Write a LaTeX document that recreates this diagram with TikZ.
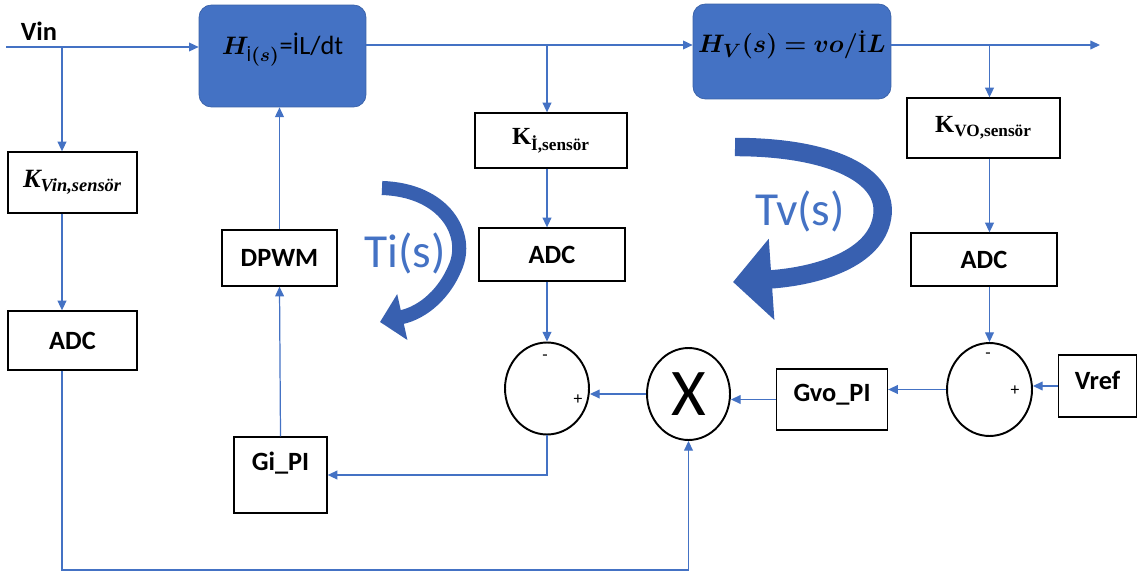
\documentclass[tikz,border=0pt]{standalone}
\usepackage{fontspec}
\usepackage{amsmath,bm}
\setmainfont{Carlito}
\newfontfamily\kfont{Liberation Serif}
\usetikzlibrary{arrows.meta}
\usetikzlibrary{shapes.geometric}
\definecolor{sigblue}{RGB}{68,114,196}
\definecolor{loopblue}{RGB}{56,96,176}
\tikzset{
    sig/.style={draw=sigblue, line width=0.7pt, -{Triangle[length=5.5pt,width=5pt]}},
    blk/.style={draw=black, line width=0.75pt, inner sep=0pt, font=\fontsize{15}{18}\selectfont\bfseries},
    plant/.style={fill=sigblue, draw=sigblue!85!black, rounded corners=7pt, inner sep=0pt, font=\fontsize{15}{18}\selectfont},
    sumnode/.style={ellipse, draw=black, line width=1.1pt, inner sep=0pt},
    sgn/.style={inner sep=0pt, font=\fontsize{10}{12}\selectfont},
    loopband/.style={draw=loopblue},
    looplabel/.style={text=sigblue, inner sep=0pt, font=\fontsize{27}{30}\selectfont}
}

\begin{document}
\begin{tikzpicture}[x=0.02cm, y=-0.02cm]
    \useasboundingbox (0,0) rectangle (1139,574);
    % plant blocks
    \node[plant, minimum width=3.34cm, text height=1.0cm, text depth=1.04cm] (Hi) at (282.5,56) {$\bm{H}_{\text{İ}\bm{(s)}}$=İL/dt};
    \node[plant, minimum width=3.96cm, text height=0.98cm, text depth=0.92cm] (Hv) at (792,51.5) {$\bm{H_V(s)=vo/}\text{\kfont İ}\bm{L}$};
    % input side
    \node[inner sep=0pt, font=\fontsize{15}{18}\selectfont\bfseries] (vinlabel) at (39,31) {Vin};
    \node[blk, minimum width=2.58cm, minimum height=1.22cm, font=\fontsize{15}{17}\selectfont\kfont\bfseries\itshape] (Kvin) at (72.5,182.5) {K\textsubscript{Vin,sensör}};
    \node[blk, minimum width=2.58cm, minimum height=1.18cm] (adcA) at (72.5,340.5) {ADC};
    % current loop
    \node[blk, minimum width=2.30cm, minimum height=1.12cm] (dpwm) at (279.5,258) {DPWM};
    \node[blk, minimum width=1.86cm, text height=0.66cm, text depth=0.86cm] (gipi) at (280.5,475) {Gi\_PI};
    \node[blk, minimum width=3.04cm, minimum height=1.10cm, font=\fontsize{14}{16}\selectfont\kfont\bfseries] (Ki) at (551,140.5) {K\textsubscript{İ,sensör}};
    \node[blk, minimum width=2.92cm, minimum height=1.06cm] (adcB) at (552,254.5) {ADC};
    \node[sumnode, minimum width=1.68cm, minimum height=1.84cm] (sumA) at (547,388.5) {};
    \node[sgn] (sumAminus) at (545,358) {-};
    \node[sgn] (sumAplus) at (578,400) {+};
    \node[sumnode, minimum width=1.66cm, minimum height=1.84cm, font=\fontsize{38}{40}\selectfont] (mult) at (688.5,394) {X};
    % voltage loop
    \node[blk, minimum width=3.06cm, minimum height=1.20cm, font=\fontsize{14}{16}\selectfont\kfont\bfseries] (Kvo) at (983.5,128) {K\textsubscript{VO,sensör}};
    \node[blk, minimum width=2.92cm, minimum height=1.06cm] (adcC) at (984,259.5) {ADC};
    \node[sumnode, minimum width=1.70cm, minimum height=1.86cm] (sumB) at (989.5,389.5) {};
    \node[sgn] (sumBminus) at (988,356) {-};
    \node[sgn] (sumBplus) at (1015,391) {+};
    \node[blk, minimum width=2.22cm, text height=0.64cm, text depth=0.58cm] (gvo) at (832,399.5) {Gvo\_PI};
    \node[blk, minimum width=1.56cm, text height=0.68cm, text depth=0.56cm] (vref) at (1097.5,386) {Vref};
    % signal lines
    \coordinate (vin) at (6,47);
    \coordinate (vinsplit) at (62,47);
    \coordinate (bus) at (0,45);
    \coordinate (out) at (1100,45);
    \coordinate (bottom) at (0,570);
    \draw[sig] (vin) -- (vin -| Hi.west);
    \draw[sig] (Hi.east |- bus) -- (Hv.west |- bus);
    \draw[sig] (Hv.east |- bus) -- (out);
    \draw[sig] (vinsplit) -- (vinsplit |- Kvin.north);
    \draw[sig] (vinsplit |- Kvin.south) -- (vinsplit |- adcA.north);
    \draw[sig] (vinsplit |- adcA.south) -- (vinsplit |- bottom) -| (mult.south);
    \draw[sig] (sumA.north |- bus) -- (sumA.north |- Ki.north);
    \draw[sig] (sumA.north |- Ki.south) -- (sumA.north |- adcB.north);
    \draw[sig] (sumA.north |- adcB.south) -- (sumA.north);
    \draw[sig] (sumA.south) |- (gipi.east);
    \draw[sig] (gipi.north) -- (dpwm.south);
    \draw[sig] (dpwm.north) -- (dpwm.north |- Hi.south);
    \draw[sig] (mult.west) -- (mult.west -| sumA.east);
    \draw[sig] (gvo.west) -- (gvo.west -| mult.east);
    \draw[sig] (sumB.west) -- (sumB.west -| gvo.east);
    \draw[sig] (vref.west) -- (vref.west -| sumB.east);
    \draw[sig] (sumB.north |- bus) -- (sumB.north |- Kvo.north);
    \draw[sig] (sumB.north |- Kvo.south) -- (sumB.north |- adcC.north);
    \draw[sig] (sumB.north |- adcC.south) -- (sumB.north);
    % loop arrows
    \draw[loopband, line width=8pt, -{Triangle[length=13pt,width=26pt]}] (382,188) .. controls (445,190) and (470,235) .. (455,268) .. controls (445,292) and (425,312) .. (380,322);
    \node[looplabel] (Ti) at (405,253) {Ti(s)};
    \draw[loopband, line width=10.5pt, -{Triangle[length=22pt,width=45pt]}] (735,147) .. controls (830,147) and (890,175) .. (882,218) .. controls (875,258) and (820,276) .. (733,282);
    \node[looplabel] (Tv) at (800,211) {Tv(s)};
\end{tikzpicture}
\end{document}
